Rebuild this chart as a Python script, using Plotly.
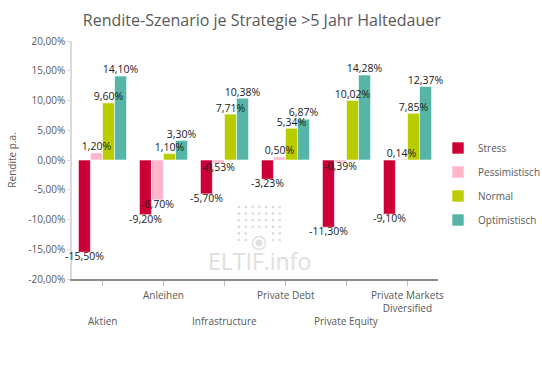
import plotly.graph_objects as go

categories = ["Aktien", "Anleihen", "Infrastructure", "Private Debt", "Private Equity", "Private Markets<br>Diversified"]
stress = [-15.50, -9.20, -5.70, -3.23, -11.30, -9.10]
pessimistisch = [1.20, -6.70, -0.53, 0.50, -0.39, 0.14]
normal = [9.60, 1.10, 7.71, 5.34, 10.02, 7.85]
optimistisch = [14.10, 3.30, 10.38, 6.87, 14.28, 12.37]
series_names = ["Stress", "Pessimistisch", "Normal", "Optimistisch"]
colors = ["#CC0036", "#FFB6C8", "#B8CC00", "#56B5A6"]
y_ticks = [-20, -15, -10, -5, 0, 5, 10, 15, 20]
y_tick_labels = ["-20,00%", "-15,00%", "-10,00%", "-5,00%", "0,00%", "5,00%", "10,00%", "15,00%", "20,00%"]

FONT = "Open Sans"
BARGAP = 0.21
n_series = 4
bar_w = (1 - BARGAP) / n_series
xs = list(range(len(categories)))

fig = go.Figure()
all_vals = [stress, pessimistisch, normal, optimistisch]
for name, vals, col in zip(series_names, all_vals, colors):
    fig.add_trace(go.Bar(
        x=xs, y=vals, name=name, legendgroup=name,
        marker=dict(color=col, line=dict(color="white", width=0.6)),
    ))

# value labels drawn above all bars
for k, (name, vals) in enumerate(zip(series_names, all_vals)):
    off = -(1 - BARGAP) / 2 + (k + 0.5) * bar_w
    fig.add_trace(go.Scatter(
        x=[i + off for i in xs], y=vals, mode="text", showlegend=False, hoverinfo="skip",
        text=[("%.2f%%" % v).replace(".", ",") for v in vals],
        textposition=["top center" if v >= 0 else "bottom center" for v in vals],
        textfont=dict(family=FONT, size=10.5, color="#1a1a1a"), cliponaxis=False,
    ))

# staggered category labels
for i, c in enumerate(categories):
    fig.add_annotation(x=i, y=0, xref="x", yref="paper", text=c, showarrow=False,
                       yanchor="top", yshift=(-33 if i % 2 == 0 else -7),
                       font=dict(family=FONT, size=10, color="#595959"))

# watermark
L, T, W, H = 72, 41, 366, 238
def px(x):
    return (x - L) / W
def py(y):
    return (T + H - y) / H

fig.add_annotation(x=px(259), y=py(273), xref="paper", yref="paper", text="ELTIF.info", showarrow=False,
                   xanchor="center", yanchor="bottom", yshift=-6,
                   font=dict(family=FONT, size=23, color="#DEDEDE"))
for r in range(6):
    for c in range(7):
        cx = 239 + c * 6.8
        cy = 207 + r * 6.6
        if r >= 4 and 2 <= c <= 4:
            continue
        fig.add_shape(type="circle", xref="paper", yref="paper", layer="below",
                      x0=px(cx - 1.3), x1=px(cx + 1.3), y0=py(cy + 1.3), y1=py(cy - 1.3),
                      fillcolor="#DADADA", line=dict(width=0))
fig.add_shape(type="circle", xref="paper", yref="paper", layer="below",
              x0=px(259 - 6.5), x1=px(259 + 6.5), y0=py(243 + 6.5), y1=py(243 - 6.5),
              fillcolor="rgba(0,0,0,0)", line=dict(color="#E0E0E0", width=1.5))
fig.add_shape(type="circle", xref="paper", yref="paper", layer="below",
              x0=px(259 - 3.5), x1=px(259 + 3.5), y0=py(243 + 3.5), y1=py(243 - 3.5),
              fillcolor="#E0E0E0", line=dict(width=0))

fig.update_layout(
    width=542, height=365,
    margin=dict(l=72, r=104, t=41, b=86, autoexpand=False),
    paper_bgcolor="white", plot_bgcolor="rgba(0,0,0,0)",
    barmode="group", bargap=BARGAP, bargroupgap=0,
    title=dict(text="Rendite-Szenario je Strategie >5 Jahr Haltedauer", x=0.483, xanchor="center",
               y=0.945, yanchor="middle", font=dict(family=FONT, size=16, color="#595959")),
    font=dict(family=FONT, color="#595959"),
    showlegend=True,
    legend=dict(x=px(438), y=py(184), xanchor="left", yanchor="middle", tracegroupgap=5,
                font=dict(family=FONT, size=10, color="#595959"), bgcolor="rgba(0,0,0,0)"),
    xaxis=dict(tickmode="array", tickvals=xs, ticktext=[""] * len(categories),
               range=[-0.5, len(categories) - 0.5], showline=True, linecolor="#8C8C8C", linewidth=1.5,
               ticks="outside", ticklen=5, tickcolor="#BFBFBF", tickson="boundaries", showgrid=False,
               zeroline=False, layer="below traces"),
    yaxis=dict(range=[-20, 20], tickmode="array", tickvals=y_ticks, ticktext=y_tick_labels,
               showline=True, linecolor="#D9D9D9", linewidth=1.5, ticks="outside", ticklen=3,
               tickcolor="#D9D9D9", showgrid=False, zeroline=False, layer="below traces",
               tickfont=dict(family=FONT, size=10, color="#595959"),
               title=dict(text="Rendite p.a.", font=dict(family=FONT, size=10, color="#595959"), standoff=10)),
)
fig.write_html("out.html", config={"displayModeBar": False},
               post_script="document.body.style.margin='0';document.body.style.overflow='hidden';")
